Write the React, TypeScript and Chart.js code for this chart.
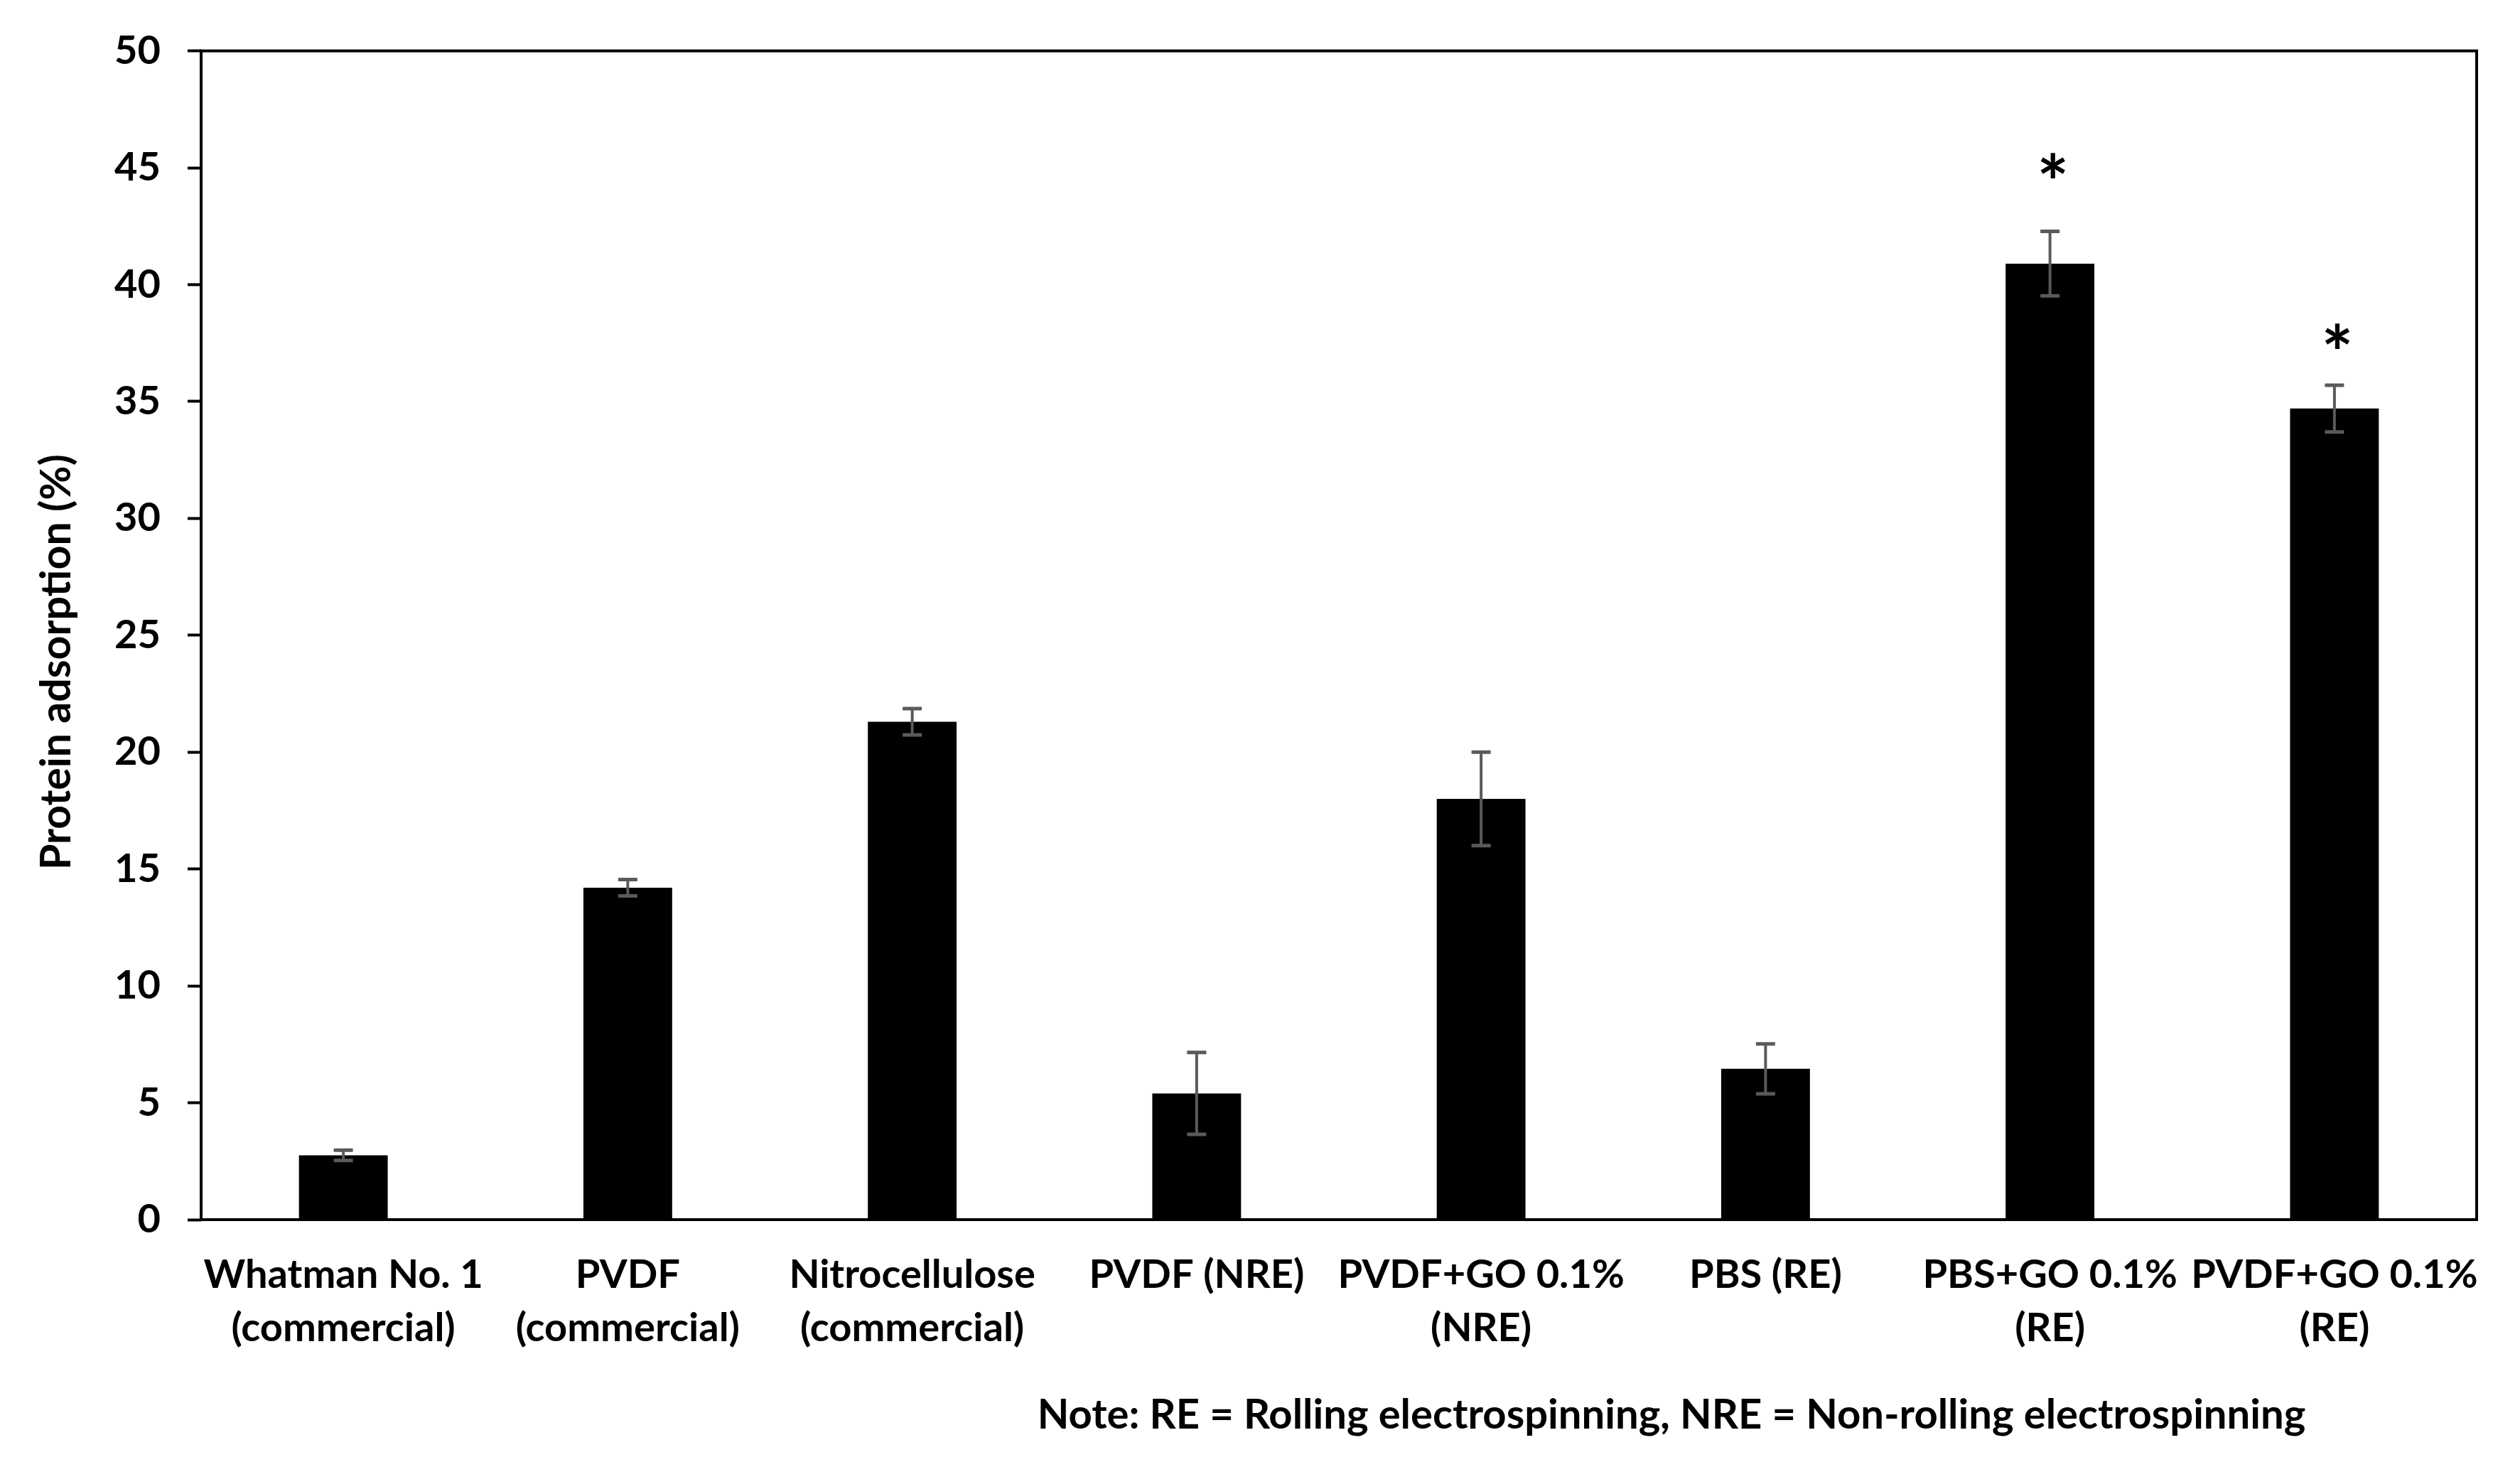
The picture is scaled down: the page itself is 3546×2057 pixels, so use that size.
import React, { useEffect, useRef } from "react";
import { Chart, registerables } from "chart.js";

Chart.register(...registerables);

// ---- data ----
const categories: string[][] = [
  ["Whatman No. 1", "(commercial)"],
  ["PVDF", "(commercial)"],
  ["Nitrocellulose", "(commercial)"],
  ["PVDF (NRE)"],
  ["PVDF+GO 0.1%", "(NRE)"],
  ["PBS (RE)"],
  ["PBS+GO 0.1%", "(RE)"],
  ["PVDF+GO 0.1%", "(RE)"],
];
const adsorption = [2.75, 14.2, 21.3, 5.4, 18.0, 6.45, 40.9, 34.7];
const errorValues = [0.22, 0.35, 0.56, 1.75, 2.0, 1.07, 1.38, 1.0];
const significanceMarks = ["", "", "", "", "", "", "*", "*"];
const significanceLevels = [0, 0, 0, 0, 0, 0, 45.1, 37.8];
const yTickValues = [0, 5, 10, 15, 20, 25, 30, 35, 40, 45, 50];
const yAxisTitle = "Protein adsorption (%)";
const noteText = "Note: RE = Rolling electrospinning, NRE = Non-rolling electrospinning";

const FONT = "Lato, 'Open Sans', 'Liberation Sans', sans-serif";

const W = 3546;
const H = 2057;

const decorPlugin = {
  id: "decor",
  afterDatasetsDraw(chart: any) {
    const ctx = chart.ctx;
    const yScale = chart.scales.y;
    const meta = chart.getDatasetMeta(0);
    ctx.save();
    // error bars
    ctx.strokeStyle = "#5a5a5a";
    ctx.lineCap = "butt";
    meta.data.forEach((bar: any, i: number) => {
      const x = bar.x;
      const yTop = yScale.getPixelForValue(adsorption[i] + errorValues[i]);
      const yBot = yScale.getPixelForValue(adsorption[i] - errorValues[i]);
      const half = 13.5;
      ctx.lineWidth = 4;
      ctx.beginPath();
      ctx.moveTo(x, yTop);
      ctx.lineTo(x, yBot);
      ctx.stroke();
      ctx.lineWidth = 5;
      ctx.beginPath();
      ctx.moveTo(x - half, yTop);
      ctx.lineTo(x + half, yTop);
      ctx.moveTo(x - half, yBot);
      ctx.lineTo(x + half, yBot);
      ctx.stroke();
    });
    // significance asterisks
    ctx.fillStyle = "#000";
    ctx.font = `bold 100px ${FONT}`;
    const m = ctx.measureText("*");
    const h100 = m.actualBoundingBoxAscent + m.actualBoundingBoxDescent;
    const size = h100 > 0 ? (100 * 36) / h100 : 80;
    ctx.font = `bold ${size}px ${FONT}`;
    const m2 = ctx.measureText("*");
    ctx.textAlign = "center";
    ctx.textBaseline = "alphabetic";
    meta.data.forEach((bar: any, i: number) => {
      if (!significanceMarks[i]) return;
      const yc = yScale.getPixelForValue(significanceLevels[i]);
      const off = (m2.actualBoundingBoxAscent - m2.actualBoundingBoxDescent) / 2;
      ctx.fillText(significanceMarks[i], bar.x + 4, yc + off);
    });
    ctx.restore();
  },
  afterDraw(chart: any) {
    const ctx = chart.ctx;
    const a = chart.chartArea;
    ctx.save();
    // plot frame
    ctx.strokeStyle = "#000";
    ctx.lineWidth = 4;
    ctx.strokeRect(a.left, a.top, a.right - a.left, a.bottom - a.top);
    // y-axis title
    ctx.fillStyle = "#000";
    ctx.font = `bold 59px ${FONT}`;
    ctx.translate(80, a.top + (a.bottom - a.top) * 0.523);
    ctx.rotate(-Math.PI / 2);
    ctx.textAlign = "center";
    ctx.textBaseline = "middle";
    ctx.fillText(yAxisTitle, 0, 0);
    ctx.restore();
    // note
    ctx.save();
    ctx.fillStyle = "#000";
    ctx.font = `bold 58px ${FONT}`;
    ctx.textAlign = "center";
    ctx.textBaseline = "middle";
    ctx.fillText(noteText, 2352, 1991);
    ctx.restore();
  },
};

export default function App() {
  const canvasRef = useRef<HTMLCanvasElement | null>(null);

  useEffect(() => {
    const canvas = canvasRef.current;
    if (!canvas) return;
    const chart = new Chart(canvas, {
      type: "bar",
      data: {
        labels: categories,
        datasets: [
          {
            label: "Protein adsorption",
            data: adsorption,
            backgroundColor: "#000000",
            borderColor: "#000000",
            borderWidth: 0,
            categoryPercentage: 1,
            barPercentage: 0.312,
          },
        ],
      },
      options: {
        responsive: false,
        animation: false,
        devicePixelRatio: 1,
        layout: { padding: { left: 0, top: 68, right: 61, bottom: 0 } },
        plugins: {
          legend: { display: false },
          tooltip: { enabled: false },
          title: { display: false },
        },
        scales: {
          x: {
            type: "category",
            offset: true,
            grid: { display: false, drawTicks: false },
            border: { display: false },
            ticks: {
              color: "#000",
              font: { family: FONT, size: 56, weight: "bold", lineHeight: 75 / 56 },
              padding: 40,
              maxRotation: 0,
              minRotation: 0,
              autoSkip: false,
            },
            afterFit: (scale: any) => {
              scale.height = H - 1716;
            },
          },
          y: {
            min: 0,
            max: 50,
            afterBuildTicks: (scale: any) => {
              scale.ticks = yTickValues.map((v) => ({ value: v }));
            },
            grid: {
              display: true,
              drawOnChartArea: false,
              drawTicks: true,
              tickLength: 19,
              tickWidth: 4,
              tickColor: "#000",
            },
            border: { display: false },
            ticks: {
              color: "#000",
              font: { family: FONT, size: 56, weight: "bold" },
              padding: 38,
            },
            afterFit: (scale: any) => {
              scale.width = 283;
            },
          },
        },
      },
      plugins: [decorPlugin],
    });
    return () => chart.destroy();
  }, []);

  return (
    <div
      style={{
        position: "fixed",
        left: 0,
        top: 0,
        width: W,
        height: H,
        background: "#ffffff",
      }}
    >
      <canvas ref={canvasRef} width={W} height={H} style={{ width: W, height: H, display: "block" }} />
    </div>
  );
}
